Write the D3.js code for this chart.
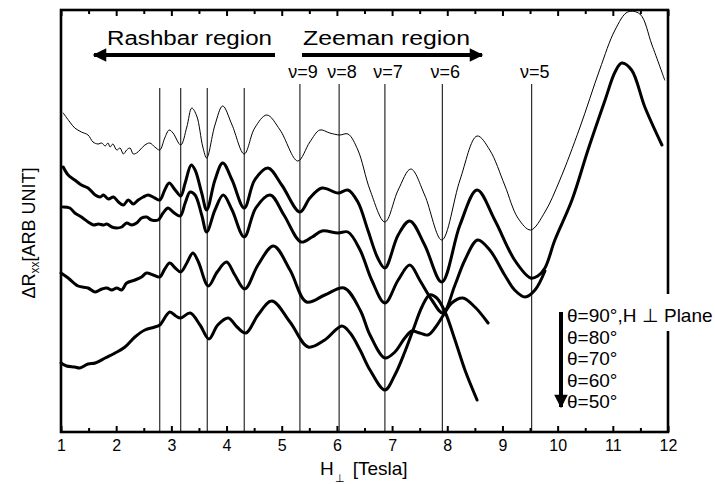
<!DOCTYPE html>
<html>
<head>
<meta charset="utf-8">
<script src="https://cdn.jsdelivr.net/npm/d3@7"></script>
<style>
  body { margin: 0; background: #fff; }
  svg text { font-family: "Liberation Sans", Arial, sans-serif; fill: #000; }
</style>
</head>
<body>
<svg id="chart" width="715" height="484"></svg>
<script>
// field in Tesla, signal in arbitrary units (0..422)
const curve90 = [[1.04,319],[1.16,310],[1.25,304],[1.37,300],[1.49,297],[1.58,290],[1.67,288],[1.74,289],[1.80,286],[1.85,289],[1.89,285],[1.94,288],[2.01,282],[2.07,284],[2.13,278],[2.19,282],[2.25,284],[2.31,278],[2.37,279],[2.43,282],[2.52,287],[2.61,289],[2.70,285],[2.79,282],[2.88,294],[2.96,302],[3.03,299],[3.17,287],[3.28,305],[3.37,324],[3.46,316],[3.57,285],[3.64,274],[3.79,307],[3.93,326],[4.10,307],[4.32,278],[4.51,304],[4.73,317],[4.97,302],[5.29,271],[5.51,290],[5.69,302],[5.87,299],[6.05,297],[6.20,298],[6.38,282],[6.60,242],[6.87,210],[7.11,242],[7.34,263],[7.59,237],[7.90,192],[8.23,252],[8.54,296],[8.77,282],[9.04,247],[9.28,214],[9.51,202],[9.77,220],[10.04,252],[10.40,304],[10.76,362],[11.04,402],[11.27,420],[11.49,418],[11.71,387],[11.94,352]];
const curve80 = [[1.04,265],[1.13,257],[1.25,252],[1.37,247],[1.49,244],[1.62,237],[1.71,235],[1.77,237],[1.86,233],[1.95,235],[2.04,230],[2.13,227],[2.22,232],[2.31,228],[2.40,232],[2.49,235],[2.58,237],[2.70,234],[2.79,232],[2.88,242],[2.96,249],[3.07,242],[3.17,236],[3.25,249],[3.36,267],[3.43,262],[3.55,239],[3.64,222],[3.79,252],[3.93,269],[4.10,252],[4.32,224],[4.51,252],[4.75,264],[5.00,247],[5.33,220],[5.51,234],[5.73,244],[6.02,239],[6.20,242],[6.38,230],[6.56,202],[6.74,174],[6.87,164],[7.11,197],[7.32,211],[7.59,187],[7.90,150],[8.23,207],[8.54,242],[8.86,212],[9.22,172],[9.51,154],[9.64,156],[9.77,164],[9.95,192],[10.26,232],[10.55,282],[10.86,332],[11.04,360],[11.16,369],[11.34,362],[11.58,325],[11.89,287]];
const curve70 = [[1.04,225],[1.16,224],[1.25,219],[1.37,215],[1.49,210],[1.59,207],[1.68,208],[1.77,207],[1.83,208],[1.92,205],[2.01,204],[2.10,205],[2.19,209],[2.28,207],[2.37,209],[2.46,214],[2.55,215],[2.64,212],[2.76,212],[2.85,219],[2.94,224],[3.03,220],[3.16,216],[3.25,229],[3.34,240],[3.43,237],[3.55,217],[3.64,200],[3.79,222],[3.94,237],[4.10,222],[4.32,195],[4.53,224],[4.79,237],[5.04,217],[5.35,190],[5.55,195],[5.73,201],[6.02,199],[6.20,200],[6.42,182],[6.63,152],[6.87,129],[7.11,152],[7.32,167],[7.50,152],[7.72,132],[7.92,119],[8.14,147],[8.32,172],[8.55,192],[8.77,182],[9.04,157],[9.22,142],[9.41,135],[9.59,142],[9.77,161]];
const curve60 = [[1.00,159],[1.13,154],[1.31,146],[1.49,144],[1.62,140],[1.74,143],[1.83,144],[1.92,142],[2.01,144],[2.10,142],[2.19,149],[2.34,152],[2.46,155],[2.55,159],[2.67,157],[2.79,155],[2.88,163],[2.97,169],[3.07,164],[3.17,160],[3.28,169],[3.39,179],[3.49,170],[3.67,146],[3.83,160],[4.00,170],[4.15,157],[4.33,143],[4.57,167],[4.85,186],[5.15,162],[5.45,130],[5.78,137],[6.13,144],[6.42,122],[6.60,97],[6.87,74],[7.05,80],[7.23,94],[7.36,101],[7.50,99],[7.65,97],[7.79,105],[7.92,116],[8.08,129],[8.28,134],[8.50,125],[8.74,109]];
const curve50 = [[1.00,69],[1.10,66],[1.25,65],[1.34,64],[1.49,68],[1.62,69],[1.80,74],[1.98,79],[2.16,85],[2.34,95],[2.52,102],[2.70,105],[2.79,107],[2.97,120],[3.08,116],[3.17,114],[3.34,119],[3.52,107],[3.68,93],[3.84,107],[4.03,114],[4.19,105],[4.35,99],[4.57,117],[4.82,131],[5.15,110],[5.48,85],[5.78,92],[6.09,106],[6.24,99],[6.42,82],[6.60,62],[6.87,42],[7.05,57],[7.23,80],[7.38,102],[7.54,125],[7.68,137],[7.81,134],[7.96,120],[8.14,92],[8.32,62],[8.54,32]];

const curves = [curve90, curve80, curve70, curve60, curve50];
const curveWidths = [1, 3, 3, 3, 3];

const rashbaLines = [2.79, 3.17, 3.65, 4.32];
const nuLines = [5.33, 6.04, 6.87, 7.91, 9.53];
const nuLabels = ["ν=9", "ν=8", "ν=7", "ν=6", "ν=5"];
const xTickLabels = [1, 2, 3, 4, 5, 6, 7, 8, 9, 10, 11, 12];
const legendLabels = ["θ=90°,H ⊥ Plane", "θ=80°", "θ=70°", "θ=60°", "θ=50°"];

const svg = d3.select("#chart");
const x = d3.scaleLinear().domain([1, 12]).range([61, 668]);
const y = d3.scaleLinear().domain([0, 422]).range([432, 10]);

// vertical marker lines
svg.selectAll("line.rb").data(rashbaLines).enter().append("line")
    .attr("x1", d => x(d)).attr("x2", d => x(d))
    .attr("y1", y(344)).attr("y2", y(0))
    .attr("stroke", "#000").attr("stroke-width", 1);
svg.selectAll("line.nu").data(nuLines).enter().append("line")
    .attr("x1", d => x(d)).attr("x2", d => x(d))
    .attr("y1", y(348)).attr("y2", y(0))
    .attr("stroke", "#000").attr("stroke-width", 1);
svg.selectAll("text.nu").data(nuLines).enter().append("text")
    .attr("x", d => x(d) + 3).attr("y", 78)
    .attr("text-anchor", "middle").style("font-size", "18px")
    .text((d, i) => nuLabels[i]);

// curves
const line = d3.line().x(d => x(d[0])).y(d => y(d[1])).curve(d3.curveCatmullRom.alpha(0.5));
curves.forEach((c, i) => {
    svg.append("path").attr("d", line(c))
        .attr("fill", "none").attr("stroke", "#000")
        .attr("stroke-width", curveWidths[i])
        .attr("stroke-linejoin", "round").attr("stroke-linecap", "round");
});

// axes, ticks inward
const halfTicks = d3.range(1, 12.01, 0.5);
const fmt = d => Number.isInteger(d) && xTickLabels.includes(d) ? d : "";
const bottomAx = svg.append("g").attr("transform", "translate(0,432)")
    .call(d3.axisBottom(x).tickValues(halfTicks).tickFormat(fmt).tickSizeInner(-4).tickSizeOuter(0).tickPadding(8));
bottomAx.select(".domain").remove();
bottomAx.selectAll(".tick line").attr("stroke-width", 2).attr("y2", d => Number.isInteger(d) ? -6 : -4);
bottomAx.selectAll(".tick text").style("font-size", "16px").style("font-family", "'Liberation Sans', Arial, sans-serif");

const topAx = svg.append("g").attr("transform", "translate(0,10)")
    .call(d3.axisTop(x).tickValues(halfTicks).tickFormat("").tickSizeInner(-4).tickSizeOuter(0));
topAx.select(".domain").remove();
topAx.selectAll(".tick line").attr("stroke-width", 2).attr("y2", d => Number.isInteger(d) ? 6 : 4);

svg.append("rect").attr("x", 61).attr("y", 10).attr("width", 607).attr("height", 422)
    .attr("fill", "none").attr("stroke", "#000").attr("stroke-width", 2.6);

// axis titles
const yt = svg.append("text").attr("transform", "translate(35,233) rotate(-90)")
    .attr("text-anchor", "middle").style("font-size", "18px");
yt.append("tspan").text("ΔR");
yt.append("tspan").text("xx").style("font-size", "12px").attr("dy", 4);
yt.append("tspan").text("[ARB UNIT]").attr("dy", -4);

const xt = svg.append("text").attr("x", 320).attr("y", 475).style("font-size", "19px");
xt.append("tspan").text("H");
xt.append("tspan").text("⊥").style("font-size", "11px").attr("dy", 7).attr("dx", 1);
xt.append("tspan").text("[Tesla]").attr("dy", -7).attr("dx", 8);

// region arrows
svg.append("defs").append("marker").attr("id", "ah")
    .attr("viewBox", "0 0 10 10").attr("refX", 9).attr("refY", 5)
    .attr("markerWidth", 4.2).attr("markerHeight", 3.4).attr("markerUnits", "strokeWidth")
    .attr("orient", "auto")
    .append("path").attr("d", "M0,0 L10,5 L0,10 Z").attr("fill", "#000");

svg.append("text").attr("x", 107).attr("y", 45).attr("textLength", 165)
    .attr("lengthAdjust", "spacingAndGlyphs").style("font-size", "20px").text("Rashbar region");
svg.append("line").attr("x1", 275).attr("x2", 94).attr("y1", 55).attr("y2", 55)
    .attr("stroke", "#000").attr("stroke-width", 4).attr("marker-end", "url(#ah)");
svg.append("text").attr("x", 303).attr("y", 45).attr("textLength", 167)
    .attr("lengthAdjust", "spacingAndGlyphs").style("font-size", "20px").text("Zeeman region");
svg.append("line").attr("x1", 302).attr("x2", 482).attr("y1", 55).attr("y2", 55)
    .attr("stroke", "#000").attr("stroke-width", 4).attr("marker-end", "url(#ah)");

// legend
svg.append("rect").attr("x", 565).attr("y", 294).attr("width", 150).attr("height", 37).attr("fill", "#fff");
svg.append("line").attr("x1", 561).attr("x2", 561).attr("y1", 312).attr("y2", 407)
    .attr("stroke", "#000").attr("stroke-width", 4).attr("marker-end", "url(#ah)");
svg.selectAll("text.leg").data(legendLabels).enter().append("text")
    .attr("x", 567).attr("y", (d, i) => 322 + i * 21.5)
    .style("font-size", "19px").text(d => d);
</script>
</body>
</html>
